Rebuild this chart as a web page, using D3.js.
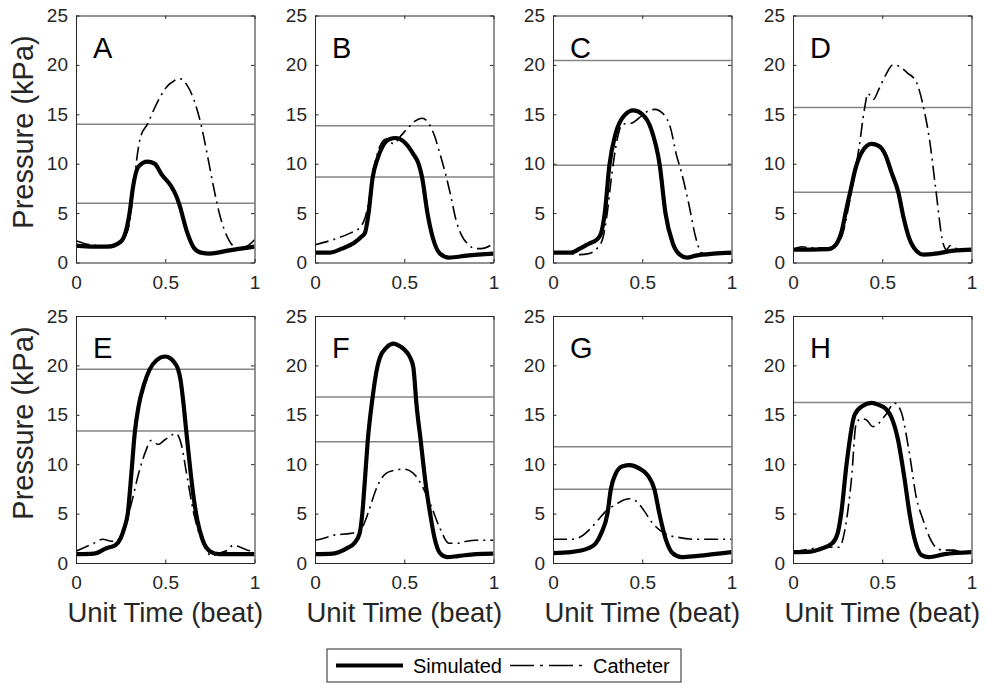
<!DOCTYPE html>
<html>
<head>
<meta charset="utf-8">
<script src="https://cdn.jsdelivr.net/npm/d3@7"></script>
<style>
  body { margin: 0; background: #fff; }
  svg { font-family: "Liberation Sans", Arial, sans-serif; }
</style>
</head>
<body>
<script>
// panel letters and the values
const panels = ['A', 'B', 'C', 'D', 'E', 'F', 'G', 'H']

const simA = [[0,1.7],[0.1,1.6],[0.18,1.6],[0.25,2.1],[0.28,3.2],[0.3,5],[0.32,7.7],[0.35,9.7],[0.4,10.2],[0.44,10],[0.48,8.9],[0.53,7.8],[0.56,6.8],[0.58,5.8],[0.62,3.2],[0.66,1.5],[0.7,1.0],[0.75,0.9],[0.85,1.2],[1,1.6]]
const catA = [[0,2.2],[0.05,1.9],[0.15,1.7],[0.22,1.8],[0.27,2.5],[0.3,4],[0.33,9],[0.36,12.6],[0.4,14],[0.45,16],[0.5,17.6],[0.55,18.4],[0.58,18.6],[0.62,18],[0.66,16.5],[0.7,14],[0.74,10.5],[0.77,7.7],[0.81,4.5],[0.85,2.5],[0.9,1.5],[0.95,1.6],[1,2.3]]

const simB = [[0,1.0],[0.08,1.0],[0.15,1.4],[0.22,2.0],[0.26,2.6],[0.28,3],[0.3,5],[0.323,8.6],[0.35,10.5],[0.38,11.8],[0.42,12.5],[0.45,12.6],[0.5,12.2],[0.55,11],[0.58,10],[0.6,8.6],[0.63,5],[0.66,2.5],[0.7,0.9],[0.75,0.5],[0.85,0.7],[1,0.9]]
const catB = [[0,1.8],[0.1,2.3],[0.2,3.0],[0.25,3.5],[0.28,4.5],[0.3,6],[0.33,9.5],[0.37,12],[0.4,12.5],[0.44,12],[0.48,12.8],[0.52,13.6],[0.56,14.3],[0.6,14.6],[0.64,14],[0.67,12.8],[0.7,11],[0.735,8.7],[0.76,6.8],[0.79,4.3],[0.82,2.8],[0.86,1.8],[0.9,1.4],[0.93,1.4],[1,1.9]]

const simC = [[0,1.0],[0.1,1.0],[0.15,1.4],[0.2,1.9],[0.25,2.4],[0.27,3],[0.29,5],[0.316,9.85],[0.35,13],[0.4,14.9],[0.45,15.4],[0.5,15],[0.55,13.5],[0.598,9.85],[0.63,5],[0.67,2],[0.71,0.8],[0.75,0.5],[0.8,0.7],[0.9,0.9],[1,1.0]]
const catC = [[0,1.0],[0.1,0.9],[0.15,0.8],[0.2,0.9],[0.25,1.5],[0.28,2.5],[0.3,4.5],[0.33,9],[0.36,12.5],[0.39,14],[0.44,14.1],[0.48,14.6],[0.52,15.2],[0.57,15.5],[0.62,15],[0.66,13.5],[0.69,11],[0.72,9.1],[0.76,6],[0.8,2.5],[0.83,1.0],[0.87,0.8],[0.92,0.9],[1,0.9]]

const simD = [[0,1.3],[0.1,1.3],[0.2,1.35],[0.24,1.8],[0.27,3],[0.3,5.5],[0.32,7.1],[0.35,9.5],[0.39,11.3],[0.44,12],[0.48,11.8],[0.52,10.8],[0.55,9.2],[0.59,7.1],[0.62,4.5],[0.65,2.5],[0.69,1.2],[0.73,0.8],[0.8,0.9],[0.9,1.2],[1,1.3]]
const catD = [[0,1.3],[0.05,1.6],[0.1,1.5],[0.2,1.5],[0.25,1.9],[0.28,3],[0.31,5.5],[0.34,8.5],[0.37,11.6],[0.4,15.5],[0.42,17.1],[0.45,16.5],[0.48,17.5],[0.52,19],[0.56,20],[0.6,19.8],[0.64,19.2],[0.69,18.3],[0.73,15.8],[0.765,12.4],[0.8,7.4],[0.84,2.0],[0.86,1.3],[0.88,1.7],[0.92,1.4],[1,1.2]]

const simE = [[0,0.9],[0.1,0.95],[0.17,1.5],[0.22,1.8],[0.25,2.5],[0.27,3.5],[0.29,5],[0.31,9],[0.33,13.3],[0.35,15.8],[0.38,18],[0.413,19.6],[0.45,20.5],[0.5,20.9],[0.53,20.7],[0.555,20.2],[0.572,19.6],[0.585,18.6],[0.6,16.5],[0.618,13.3],[0.64,9.5],[0.66,6.5],[0.68,4.3],[0.71,2.3],[0.75,1.2],[0.8,0.9],[1,0.9]]
const catE = [[0,1.2],[0.05,1.6],[0.1,2.0],[0.15,2.4],[0.2,2.2],[0.23,2.3],[0.27,3.5],[0.31,6],[0.35,9],[0.39,11.3],[0.42,12.4],[0.46,12],[0.5,12.5],[0.56,13.1],[0.59,12],[0.62,9],[0.66,5],[0.7,2.5],[0.74,1.0],[0.76,0.7],[0.8,1.0],[0.85,1.3],[0.88,1.8],[0.92,1.6],[0.96,1.3],[1,1.2]]

const simF = [[0,0.9],[0.1,0.95],[0.18,1.5],[0.22,2.0],[0.25,3],[0.265,5],[0.28,8.5],[0.295,12.26],[0.323,16.8],[0.336,18.5],[0.35,19.9],[0.364,20.8],[0.4,21.8],[0.44,22.2],[0.47,22],[0.5,21.6],[0.53,20.9],[0.551,19.8],[0.558,18.5],[0.565,16.8],[0.593,12.26],[0.62,8],[0.645,5],[0.67,2.5],[0.7,1.0],[0.74,0.6],[0.8,0.7],[0.9,0.9],[1,0.95]]
const catF = [[0,2.3],[0.05,2.5],[0.1,2.8],[0.2,3.0],[0.25,3.2],[0.28,4.2],[0.3,5.2],[0.35,7.8],[0.4,9.1],[0.45,9.4],[0.5,9.5],[0.55,9.1],[0.6,7.8],[0.65,5.8],[0.7,3.5],[0.75,2.0],[0.8,2.0],[0.85,2.2],[0.9,2.3],[1,2.3]]

const simG = [[0,1.0],[0.1,1.1],[0.2,1.5],[0.24,2.0],[0.27,3],[0.305,5],[0.324,7.47],[0.35,9.0],[0.39,9.8],[0.43,9.9],[0.48,9.6],[0.53,8.9],[0.568,7.47],[0.596,5],[0.63,2.5],[0.67,1.0],[0.72,0.6],[0.8,0.7],[0.9,0.9],[1,1.1]]
const catG = [[0,2.4],[0.1,2.4],[0.15,2.6],[0.2,3.3],[0.25,4.3],[0.3,5.3],[0.35,5.9],[0.4,6.4],[0.43,6.5],[0.47,6.2],[0.51,5.3],[0.55,4.2],[0.6,3.3],[0.65,2.8],[0.7,2.6],[0.8,2.4],[1,2.4]]

const simH = [[0,1.1],[0.1,1.15],[0.15,1.4],[0.22,2.0],[0.25,3],[0.27,5],[0.3,10],[0.345,15],[0.39,15.9],[0.44,16.2],[0.48,16.0],[0.52,15.6],[0.55,14.8],[0.588,12.5],[0.625,8.5],[0.653,5],[0.68,2.5],[0.72,0.8],[0.76,0.6],[0.85,0.9],[1,1.1]]
const catH = [[0,1.1],[0.205,1.6],[0.26,1.6],[0.29,3.3],[0.327,8.4],[0.354,14.1],[0.382,14.6],[0.41,14.5],[0.448,13.8],[0.52,15],[0.569,16.2],[0.606,15.3],[0.653,11],[0.69,6.7],[0.73,4.3],[0.765,2.6],[0.8,1.6],[0.84,1.3],[0.9,1.3],[0.95,1.1],[1,1.1]]

// grey reference levels per panel
const greyLevels = [[14.0, 6.0], [13.85, 8.65], [20.45, 9.85], [15.7, 7.1], [19.6, 13.35], [16.8, 12.26], [11.76, 7.47], [16.25]]

const simulated = [simA, simB, simC, simD, simE, simF, simG, simH]
const catheter = [catA, catB, catC, catD, catE, catF, catG, catH]

const yTicks = [0, 5, 10, 15, 20, 25]
const xTicks = [0, 0.5, 1]
const legendLabels = ['Simulated', 'Catheter']

const width = 986, height = 684
const colLeft = [76, 315, 553, 793]
const rowTop = [15.5, 316]
const yLabelMid = [132, 423]
const pw = 178.5, ph = 247
const ink = '#262626'
const dashDot = '14,5,2,5'

const svg = d3.select('body').append('svg')
  .attr('width', width)
  .attr('height', height)

panels.forEach((name, i) => {
  const col = i % 4, row = Math.floor(i / 4)
  const x = d3.scaleLinear().domain([0, 1]).range([0, pw])
  const y = d3.scaleLinear().domain([0, 25]).range([ph, 0])

  const g = svg.append('g')
    .attr('transform', `translate(${colLeft[col]},${rowTop[row]})`)

  g.append('rect')
    .attr('width', pw).attr('height', ph)
    .attr('fill', '#fff')

  const clip = 'clip' + name
  g.append('clipPath').attr('id', clip)
    .append('rect').attr('width', pw).attr('height', ph)

  const plot = g.append('g').attr('clip-path', `url(#${clip})`)

  plot.selectAll('.grey').data(greyLevels[i]).enter()
    .append('line')
    .attr('x1', 0).attr('x2', pw)
    .attr('y1', (d) => y(d)).attr('y2', (d) => y(d))
    .attr('stroke', '#858585')
    .attr('stroke-width', 1.5)

  const line = d3.line()
    .x((d) => x(d[0]))
    .y((d) => y(d[1]))
    .curve(d3.curveMonotoneX)

  plot.append('path')
    .datum(catheter[i])
    .attr('d', line)
    .attr('fill', 'none')
    .attr('stroke', '#000')
    .attr('stroke-width', 1.6)
    .attr('stroke-dasharray', dashDot)

  plot.append('path')
    .datum(simulated[i])
    .attr('d', line)
    .attr('fill', 'none')
    .attr('stroke', '#000')
    .attr('stroke-width', 4.2)
    .attr('stroke-linejoin', 'round')

  // box with inward ticks on all four sides
  const axB = g.append('g').attr('transform', `translate(0,${ph})`)
    .call(d3.axisBottom(x).tickValues(xTicks).tickSizeInner(-3.5).tickSizeOuter(0).tickPadding(13).tickFormat(d3.format('')))
  const axT = g.append('g')
    .call(d3.axisTop(x).tickValues(xTicks).tickSizeInner(-3.5).tickSizeOuter(0).tickFormat(''))
  const axL = g.append('g')
    .call(d3.axisLeft(y).tickValues(yTicks).tickSizeInner(-3.5).tickSizeOuter(0).tickPadding(8))
  const axR = g.append('g').attr('transform', `translate(${pw},0)`)
    .call(d3.axisRight(y).tickValues(yTicks).tickSizeInner(-3.5).tickSizeOuter(0).tickFormat(''))

  ;[axB, axT, axL, axR].forEach((a) => {
    a.select('.domain').attr('stroke', ink).attr('stroke-width', 1)
    a.selectAll('line').attr('stroke', ink)
    a.selectAll('text')
      .attr('fill', ink)
      .style('font-size', '19px')
      .style('font-family', '"Liberation Sans", Arial, sans-serif')
  })

  g.append('text')
    .attr('x', 17).attr('y', 42)
    .style('font-size', '29px')
    .attr('fill', '#000')
    .text(name)

  if (col === 0) {
    svg.append('text')
      .attr('transform', `translate(33,${yLabelMid[row]}) rotate(-90)`)
      .attr('text-anchor', 'middle')
      .attr('fill', ink)
      .style('font-size', '29px')
      .text('Pressure (kPa)')
  }
  if (row === 1) {
    svg.append('text')
      .attr('x', colLeft[col] + pw / 2).attr('y', 622)
      .attr('text-anchor', 'middle')
      .attr('fill', ink)
      .style('font-size', '27.5px')
      .text('Unit Time (beat)')
  }
})

// legend
const lg = svg.append('g').attr('transform', 'translate(327,649)')
lg.append('rect')
  .attr('width', 354).attr('height', 33)
  .attr('fill', '#fff').attr('stroke', ink).attr('stroke-width', 1)
lg.append('line')
  .attr('x1', 9).attr('x2', 76).attr('y1', 16.5).attr('y2', 16.5)
  .attr('stroke', '#000').attr('stroke-width', 4.2)
lg.append('text')
  .attr('x', 86).attr('y', 23.5)
  .style('font-size', '20px').attr('fill', '#000')
  .text(legendLabels[0])
lg.append('line')
  .attr('x1', 183).attr('x2', 258).attr('y1', 16.5).attr('y2', 16.5)
  .attr('stroke', '#000').attr('stroke-width', 1.6)
  .attr('stroke-dasharray', '24,6,3,6')
lg.append('text')
  .attr('x', 266).attr('y', 23.5)
  .style('font-size', '20px').attr('fill', '#000')
  .text(legendLabels[1])
</script>
</body>
</html>
